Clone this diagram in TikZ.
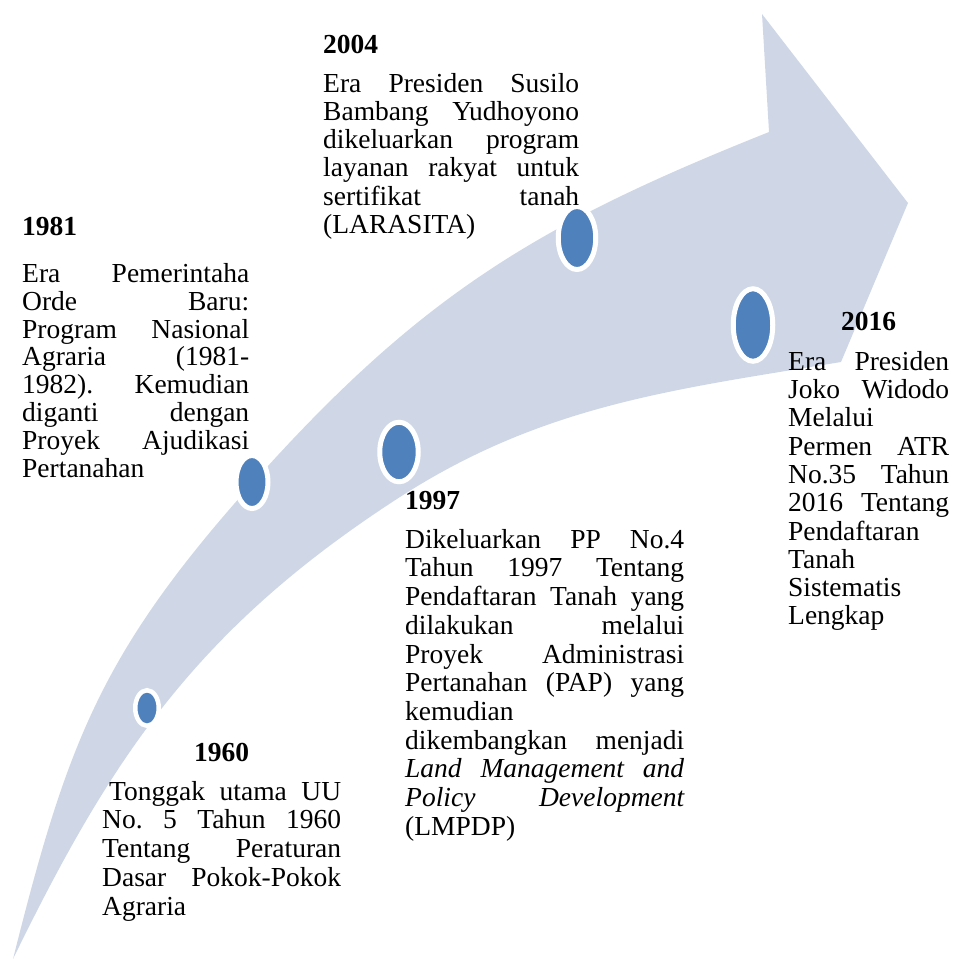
\documentclass[tikz,border=0pt]{standalone}
\usepackage{fontspec}
\setmainfont{Liberation Serif}
\usetikzlibrary{shapes.geometric}
\definecolor{arrowbg}{HTML}{CFD7E7}
\definecolor{dotblue}{HTML}{4F81BD}
\newcommand\jline[2]{\makebox[#1][s]{#2}}
\newcommand\topstrut{\rule{0pt}{20pt}}
\frenchspacing
\begin{document}
\begin{tikzpicture}[x=1pt,y=-1pt,
  dot/.style={ellipse,draw=white,line width=5pt,fill=dotblue,inner sep=0pt},
  yeartitle/.style={inner sep=0pt,font=\fontsize{27.5}{28.4}\selectfont\bfseries},
  desc/.style={inner sep=0pt,anchor=north west,align=left}]
\useasboundingbox (0,0) rectangle (954,959);

% curved arrow
\fill[arrowbg]
  (13,959) .. controls (69,736) and (103,647) .. (267,467)
  .. controls (428.5,289.6) and (546,221) .. (769,132)
  -- (762,14) -- (908,203) -- (841,362)
  .. controls (673,389.7) and (543,405) .. (400,497)
  .. controls (197,628) and (111.5,757) .. (13,959)
  -- cycle;

% markers
\node[dot,line width=4.5pt,minimum width=23.5pt,minimum height=35.5pt] (e1960) at (147,708) {};
\node[dot,minimum width=32pt,minimum height=53pt] (e1981) at (252,482) {};
\node[dot,minimum width=38.5pt,minimum height=59.5pt] (e1997) at (399,452) {};
\node[dot,minimum width=37.5pt,minimum height=63pt] (e2004) at (577,238) {};
\node[dot,minimum width=39.5pt,minimum height=72.5pt] (e2016) at (753,325) {};

% titles
\node[yeartitle,anchor=base west] (y1981) at (22,235) {1981};
\node[yeartitle,anchor=base west] (y2004) at (323,53) {2004};
\node[yeartitle,anchor=base west] (y1997) at (405,509) {1997};
\node[yeartitle,anchor=base] (y2016) at (868.5,330) {2016};
\node[yeartitle,anchor=base] (y1960) at (221.5,761) {1960};

% descriptions
\node[desc,font=\fontsize{27.5}{27.9}\selectfont] (d1981) at (22,262) {%
\topstrut\jline{227pt}{Era Pemerintaha}\\
\jline{227pt}{Orde Baru:}\\
\jline{227pt}{Program Nasional}\\
\jline{227pt}{Agraria (1981-}\\
\jline{227pt}{1982). Kemudian}\\
\jline{227pt}{diganti dengan}\\
\jline{227pt}{Proyek Ajudikasi}\\
Pertanahan};

\node[desc,font=\fontsize{27.5}{28.2}\selectfont] (d2004) at (323,72) {%
\topstrut\jline{256pt}{Era Presiden Susilo}\\
\jline{256pt}{Bambang Yudhoyono}\\
\jline{256pt}{dikeluarkan program}\\
\jline{256pt}{layanan rakyat untuk}\\
\jline{256pt}{sertifikat tanah}\\
(LARASITA)};

\node[desc,font=\fontsize{27.5}{28.7}\selectfont] (d1997) at (405,528) {%
\topstrut\jline{279pt}{Dikeluarkan PP No.4}\\
\jline{279pt}{Tahun 1997 Tentang}\\
\jline{279pt}{Pendaftaran Tanah yang}\\
\jline{279pt}{dilakukan melalui}\\
\jline{279pt}{Proyek Administrasi}\\
\jline{279pt}{Pertanahan (PAP) yang}\\
kemudian\\
\jline{279pt}{dikembangkan menjadi}\\
\jline{279pt}{\itshape Land Management and}\\
\jline{279pt}{\itshape Policy Development}\\
(LMPDP)};

\node[desc,font=\fontsize{27.5}{28.3}\selectfont] (d2016) at (788,350) {%
\topstrut\jline{161pt}{Era Presiden}\\
\jline{161pt}{Joko Widodo}\\
Melalui\\
\jline{161pt}{Permen ATR}\\
\jline{161pt}{No.35 Tahun}\\
\jline{161pt}{2016 Tentang}\\
Pendaftaran\\
Tanah\\
Sistematis\\
Lengkap};

\node[desc,font=\fontsize{27.5}{28.75}\selectfont] (d1960) at (102,780) {%
\topstrut\jline{239pt}{\kern7pt Tonggak utama UU}\\
\jline{239pt}{No. 5 Tahun 1960}\\
\jline{239pt}{Tentang Peraturan}\\
\jline{239pt}{Dasar Pokok-Pokok}\\
Agraria};
\end{tikzpicture}
\end{document}
